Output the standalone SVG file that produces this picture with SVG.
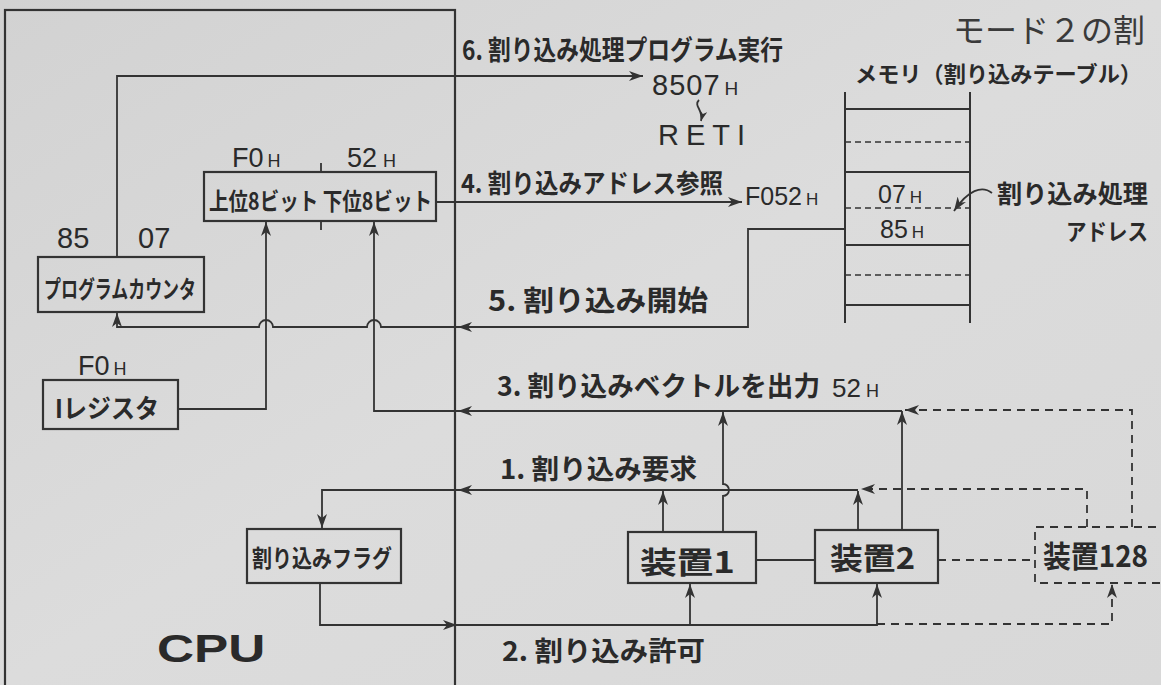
<svg xmlns="http://www.w3.org/2000/svg" width="1161" height="685" viewBox="0 0 1161 685">
<defs>
<marker id="arr" viewBox="0 0 14 10" refX="14" refY="5" markerWidth="14" markerHeight="10" markerUnits="userSpaceOnUse" orient="auto">
<path d="M0,0 L14,5 L0,10 L4,5 Z" fill="#333"/>
</marker>
<marker id="arrs" viewBox="0 0 14 10" refX="14" refY="5" markerWidth="10" markerHeight="8" markerUnits="userSpaceOnUse" orient="auto">
<path d="M0,0 L14,5 L0,10 L4,5 Z" fill="#333"/>
</marker>
<linearGradient id="bg" x1="0" y1="0" x2="1" y2="1">
<stop offset="0" stop-color="#d2d2d2"/>
<stop offset="0.5" stop-color="#dcdcdc"/>
<stop offset="1" stop-color="#d8d8d8"/>
</linearGradient>
</defs>
<style>
.box{fill:none;stroke:#333;stroke-width:2.2}
.w{fill:none;stroke:#333;stroke-width:1.8}
.d{fill:none;stroke:#333;stroke-width:1.8;stroke-dasharray:8 6}
.td{fill:none;stroke:#333;stroke-width:1.6;stroke-dasharray:6 4}
.tl{fill:none;stroke:#333;stroke-width:2}
.j{font-family:"Noto Sans CJK JP","Noto Sans",sans-serif;font-weight:700;fill:#2a2a2a}
.n{font-family:"Liberation Sans","DejaVu Sans",sans-serif;font-weight:400;fill:#2a2a2a}
.t{font-family:"Noto Sans CJK JP","Noto Sans",sans-serif;font-weight:400;fill:#3a3a3a}
</style>
<rect width="1161" height="685" fill="url(#bg)"/>

<g id="title">
<text class="t" x="953" y="42" font-size="32">モード２の割</text>
</g>

<g id="cpu">
<rect class="box" x="5" y="10" width="450" height="700"/>
<text transform="translate(157,662) scale(1.35,1)" font-family="'Liberation Sans',sans-serif" font-weight="700" font-size="38" fill="#2a2a2a">CPU</text>
</g>

<g id="program-counter">
<rect class="box" x="38" y="257" width="166" height="55"/>
<text class="j" x="44" y="298" font-size="24" textLength="152" lengthAdjust="spacingAndGlyphs">プログラムカウンタ</text>
<text class="n" x="57" y="248" font-size="29">85</text>
<text class="n" x="138" y="248" font-size="29">07</text>
</g>

<g id="address-register">
<rect class="box" x="204" y="172" width="232" height="49"/>
<line class="w" x1="321" y1="163" x2="321" y2="172"/>
<line class="w" x1="321" y1="221" x2="321" y2="230"/>
<text class="j" x="209" y="210" font-size="24" textLength="223" lengthAdjust="spacingAndGlyphs">上位8ビット 下位8ビット</text>
<text class="n" x="232" y="167" font-size="27">F0<tspan font-size="18" dx="4">H</tspan></text>
<text class="n" x="347" y="167" font-size="27">52<tspan font-size="18" dx="6">H</tspan></text>
</g>

<g id="i-register">
<rect class="box" x="43" y="380" width="135" height="49"/>
<text class="j" x="55" y="418" font-size="26" textLength="104" lengthAdjust="spacingAndGlyphs">Iレジスタ</text>
<text class="n" x="78" y="375" font-size="27">F0<tspan font-size="18" dx="4">H</tspan></text>
</g>

<g id="interrupt-flag">
<rect class="box" x="247" y="529" width="154" height="54"/>
<text class="j" x="252" y="567" font-size="24" textLength="140" lengthAdjust="spacingAndGlyphs">割り込みフラグ</text>
</g>

<g id="device1">
<rect class="box" x="628" y="532" width="128" height="51"/>
<text class="j" x="640" y="573" font-size="30" textLength="95" lengthAdjust="spacingAndGlyphs">装置1</text>
</g>

<g id="device2">
<rect class="box" x="815" y="530" width="123" height="53"/>
<text class="j" x="830" y="569" font-size="30" textLength="85" lengthAdjust="spacingAndGlyphs">装置2</text>
</g>

<g id="device128">
<path class="d" d="M1170,527 H1035 V583 H1170"/>
<text class="j" x="1043" y="567" font-size="30" textLength="105" lengthAdjust="spacingAndGlyphs">装置128</text>
</g>

<g id="memory">
<text class="j" x="855" y="82" font-size="22" textLength="287" lengthAdjust="spacingAndGlyphs">メモリ（割り込みテーブル）</text>
<line class="tl" x1="845" y1="92" x2="845" y2="323"/>
<line class="tl" x1="970" y1="92" x2="970" y2="323"/>
<line class="tl" x1="845" y1="109" x2="970" y2="109"/>
<line class="td" x1="845" y1="142" x2="970" y2="142"/>
<line class="tl" x1="845" y1="172" x2="970" y2="172"/>
<line class="td" x1="845" y1="208" x2="970" y2="208"/>
<line class="tl" x1="845" y1="245" x2="970" y2="245"/>
<line class="td" x1="845" y1="275" x2="970" y2="275"/>
<line class="tl" x1="845" y1="305" x2="970" y2="305"/>
<text class="n" x="878" y="203" font-size="25">07<tspan font-size="17" dx="4">H</tspan></text>
<text class="n" x="880" y="238" font-size="25">85<tspan font-size="17" dx="4">H</tspan></text>
<text class="j" x="997" y="203" font-size="25" textLength="151" lengthAdjust="spacingAndGlyphs">割り込み処理</text>
<text class="j" x="1066" y="240" font-size="23" textLength="82" lengthAdjust="spacingAndGlyphs">アドレス</text>
</g>

<g id="labels">
<text class="j" x="462" y="60" font-size="27" textLength="321" lengthAdjust="spacingAndGlyphs">6. 割り込み処理プログラム実行</text>
<text class="n" x="652" y="95" font-size="29" letter-spacing="1">8507<tspan font-size="19" dx="4">H</tspan></text>
<text class="n" x="658" y="145" font-size="29" textLength="87" lengthAdjust="spacing">RETI</text>
<text class="j" x="461" y="193" font-size="26" textLength="262" lengthAdjust="spacingAndGlyphs">4. 割り込みアドレス参照</text>
<text class="n" x="745" y="205" font-size="25">F052<tspan font-size="17" dx="4">H</tspan></text>
<text class="j" x="488" y="311" font-size="28" textLength="220" lengthAdjust="spacingAndGlyphs">5. 割り込み開始</text>
<text class="j" x="497" y="396" font-size="27" textLength="323" lengthAdjust="spacingAndGlyphs">3. 割り込みベクトルを出力</text>
<text class="n" x="832" y="397" font-size="26">52<tspan font-size="18" dx="5">H</tspan></text>
<text class="j" x="500" y="479" font-size="27" textLength="197" lengthAdjust="spacingAndGlyphs">1. 割り込み要求</text>
<text class="j" x="502" y="661" font-size="27" textLength="203" lengthAdjust="spacingAndGlyphs">2. 割り込み許可</text>
</g>

<g id="connectors">
<path class="w" d="M117,257 V76 H643" marker-end="url(#arr)"/>
<path class="w" d="M436,202 H742" marker-end="url(#arr)"/>
<path class="w" d="M845,229 H748 V327 H458" marker-end="url(#arr)"/>
<path class="w" d="M458,327 H381 a7,7 0 0 0 -14,0 H273 a7,7 0 0 0 -14,0 H117 V313" marker-end="url(#arr)"/>
<path class="w" d="M178,409 H266 V222" marker-end="url(#arr)"/>
<path class="w" d="M902,530 V411" marker-end="url(#arr)"/>
<path class="w" d="M902,411 H458" marker-end="url(#arr)"/>
<path class="w" d="M458,411 H374 V222" marker-end="url(#arr)"/>
<path class="w" d="M723,532 V496 a6,6 0 0 0 0,-12 V412" marker-end="url(#arr)"/>
<path class="w" d="M858,490 H458" marker-end="url(#arr)"/>
<path class="w" d="M458,490 H322 V528" marker-end="url(#arr)"/>
<path class="w" d="M663,532 V491" marker-end="url(#arr)"/>
<path class="w" d="M858,530 V491" marker-end="url(#arr)"/>
<path class="w" d="M320,583 V625 H457" marker-end="url(#arr)"/>
<path class="w" d="M457,625 H877 V584" marker-end="url(#arr)"/>
<path class="w" d="M690,625 V584" marker-end="url(#arr)"/>
<path class="w" d="M756,560 H815"/>
<path class="d" d="M877,624 H1112 V584" marker-end="url(#arr)"/>
<path class="d" d="M938,560 H1035"/>
<path class="d" d="M1087,527 V489 H861" marker-end="url(#arr)"/>
<path class="d" d="M1132,527 V410 H905" marker-end="url(#arr)"/>
<path class="w" d="M992,193 C982,185 968,190 954,211" marker-end="url(#arr)"/>
<path class="w" d="M699,100 C693,106 704,110 701,121" marker-end="url(#arrs)"/>
</g>
</svg>
